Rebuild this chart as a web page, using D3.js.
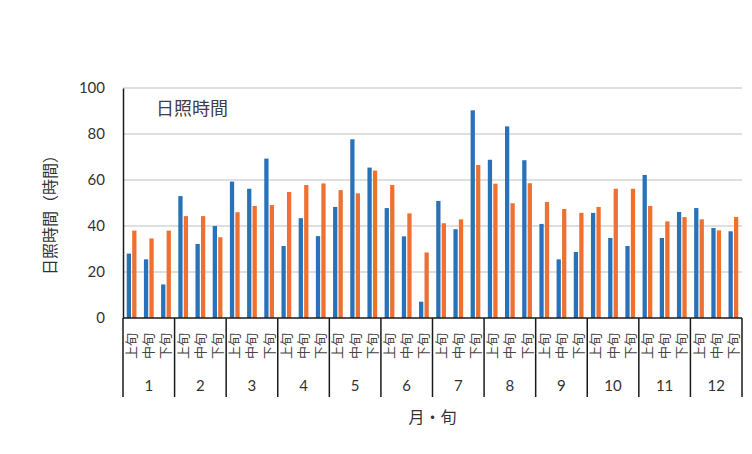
<!DOCTYPE html>
<html>
<head>
<meta charset="utf-8">
<script src="https://cdn.jsdelivr.net/npm/d3@7"></script>
<style>
  html, body { margin: 0; padding: 0; background: #ffffff; }
  svg { display: block; }
</style>
</head>
<body>
<svg id="chart" width="752" height="454"></svg>
<script>
// Months and the three ten-day periods (上旬・中旬・下旬) of each month
const months = ["1","2","3","4","5","6","7","8","9","10","11","12"];
const periods = ["上旬","中旬","下旬"];

// Sunshine hours per ten-day period, two series
const seriesBlue = [
  28, 25.5, 14.6,
  53, 32.2, 40,
  59.3, 56.2, 69.3,
  31.3, 43.4, 35.6,
  48.3, 77.7, 65.4,
  47.8, 35.5, 7.1,
  50.9, 38.6, 90.3,
  68.8, 83.3, 68.6,
  40.9, 25.5, 28.7,
  45.7, 34.8, 31.3,
  62.2, 34.8, 46.1,
  47.8, 39.1, 37.7
];
const seriesOrange = [
  38, 34.6, 38,
  44.3, 44.3, 35.1,
  46, 48.7, 49.1,
  54.8, 57.8, 58.5,
  55.6, 54.2, 64.1,
  57.8, 45.5, 28.5,
  41.2, 42.9, 66.5,
  58.4, 49.9, 58.6,
  50.4, 47.4, 45.7,
  48.3, 56.2, 56.2,
  48.7, 42.0, 43.9,
  42.9, 38.1, 43.9
];
const yTicks = [0, 20, 40, 60, 80, 100];

const chartTitle = "日照時間";
const yTitle = "日照時間（時間）";
const xTitle = "月・旬";

const colors = { blue: "#2872b9", orange: "#ee7132" };
const jpFont = "'Noto Sans CJK JP', 'Noto Sans', sans-serif";
const numFont = "Lato, 'Noto Sans', sans-serif";

const svg = d3.select("#chart");
const plot = { left: 123, right: 742, top: 88, bottom: 318 };

// One entry per ten-day period
const cats = [];
months.forEach((m, i) => periods.forEach((p, j) => {
  const k = i * 3 + j;
  cats.push({ key: m + "-" + p, month: m, period: p, blue: seriesBlue[k], orange: seriesOrange[k] });
}));

const x = d3.scaleBand().domain(cats.map(d => d.key)).range([plot.left, plot.right]).padding(0);
const xMonth = d3.scaleBand().domain(months).range([plot.left, plot.right]).padding(0);
const xSeries = d3.scaleBand().domain(["blue", "orange"]).range([0, x.bandwidth()])
  .paddingInner(0.22).paddingOuter(0.68);
const y = d3.scaleLinear().domain([0, 100]).range([plot.bottom, plot.top]);

// Horizontal gridlines
svg.append("g")
  .selectAll("line")
  .data(yTicks.filter(t => t > 0))
  .join("line")
  .attr("x1", plot.left).attr("x2", plot.right)
  .attr("y1", d => y(d)).attr("y2", d => y(d))
  .attr("stroke", "#d4d4d4").attr("stroke-width", 1.3);

// Y axis with tick labels
const yAxis = d3.axisLeft(y).tickValues(yTicks).tickSize(0).tickPadding(18);
const yg = svg.append("g").attr("transform", `translate(${plot.left},0)`).call(yAxis);
yg.select(".domain").attr("stroke", "#1a1a1a").attr("stroke-width", 1.5);
yg.selectAll("text").attr("font-family", numFont).attr("font-size", 15).attr("fill", "#333");

// Bars
const groups = svg.append("g").selectAll("g")
  .data(cats).join("g")
  .attr("transform", d => `translate(${x(d.key)},0)`);
["blue", "orange"].forEach(s => {
  groups.append("rect")
    .attr("x", xSeries(s))
    .attr("width", xSeries.bandwidth())
    .attr("y", d => y(d[s]))
    .attr("height", d => y(0) - y(d[s]))
    .attr("fill", colors[s]);
});

// Category axis: baseline, month separators, period and month labels
const xg = svg.append("g");
xg.append("line")
  .attr("x1", plot.left).attr("x2", plot.right)
  .attr("y1", plot.bottom).attr("y2", plot.bottom)
  .attr("stroke", "#1a1a1a").attr("stroke-width", 1.5);
const bounds = months.map(m => xMonth(m)).concat([plot.right]);
xg.selectAll("line.sep").data(bounds).join("line")
  .attr("class", "sep")
  .attr("x1", d => d).attr("x2", d => d)
  .attr("y1", plot.bottom).attr("y2", 397)
  .attr("stroke", "#1a1a1a").attr("stroke-width", 1.5);
xg.selectAll("text.period").data(cats).join("text")
  .attr("class", "period")
  .attr("transform", d => `translate(${x(d.key) + x.bandwidth() / 2 + 4.5},346) rotate(-90)`)
  .attr("text-anchor", "middle")
  .attr("font-family", jpFont).attr("font-size", 13).attr("fill", "#444")
  .text(d => d.period);
xg.selectAll("text.month").data(months).join("text")
  .attr("class", "month")
  .attr("x", d => xMonth(d) + xMonth.bandwidth() / 2)
  .attr("y", 391)
  .attr("text-anchor", "middle")
  .attr("font-family", numFont).attr("font-size", 15).attr("fill", "#333")
  .text(d => d);

// Titles
svg.append("text")
  .attr("x", 156).attr("y", 115)
  .attr("font-family", jpFont).attr("font-size", 18).attr("fill", "#404040")
  .text(chartTitle);
svg.append("text")
  .attr("transform", `translate(56,${(plot.top + plot.bottom) / 2 + 8}) rotate(-90)`)
  .attr("text-anchor", "middle")
  .attr("font-family", jpFont).attr("font-size", 16).attr("fill", "#333")
  .text(yTitle);
svg.append("text")
  .attr("x", (plot.left + plot.right) / 2)
  .attr("y", 423)
  .attr("text-anchor", "middle")
  .attr("font-family", jpFont).attr("font-size", 16).attr("fill", "#333")
  .text(xTitle);
</script>
</body>
</html>
